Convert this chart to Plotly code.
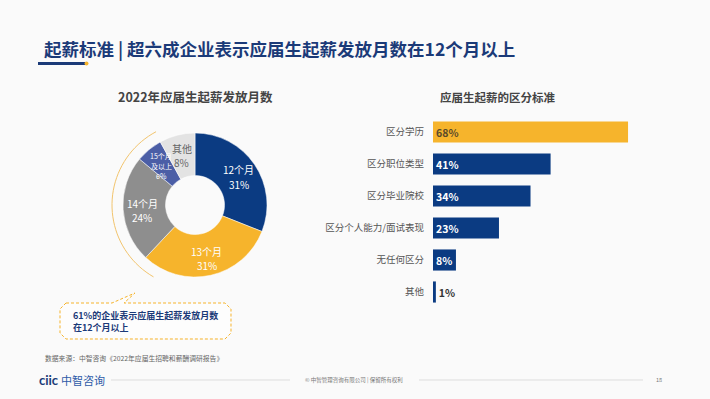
import math
import plotly.graph_objects as go

W, H = 710, 399
FONT = "Noto Sans CJK SC"
NAVY = "#0B3B82"
GOLD = "#F6B42C"

# ---- data ----
title_text = "起薪标准 | 超六成企业表示应届生起薪发放月数在12个月以上"
pie_title = "2022年应届生起薪发放月数"
pie_labels = ["12个月", "13个月", "14个月", "15个月<br>及以上", "其他"]
pie_values = [31, 31, 24, 6, 8]
pie_colors = [NAVY, GOLD, "#8E8E8E", "#4B5EA6", "#E3E3E3"]
pie_text_colors = ["white", "white", "white", "white", "#666666"]
pie_text_sizes = [10, 10, 10, 7, 10]

bar_title = "应届生起薪的区分标准"
bar_cats = ["区分学历", "区分职位类型", "区分毕业院校", "区分个人能力/面试表现", "无任何区分", "其他"]
bar_vals = [68, 41, 34, 23, 8, 1]
bar_colors = [GOLD, NAVY, NAVY, NAVY, NAVY, NAVY]
bar_text_colors = ["#5a4a2a", "white", "white", "white", "white", "#333333"]
bar_text_pos = ["inside", "inside", "inside", "inside", "inside", "outside"]

callout = "61%的企业表示应届生起薪发放月数<br>在12个月以上"
source = "数据来源：中智咨询《2022年应届生招聘和薪酬调研报告》"
copyright_text = "© 中智管理咨询有限公司 | 保留所有权利"
page_no = "18"


def px(x):
    return x / W


def py(y):
    return 1 - y / H


fig = go.Figure()

# donut
cx, cy, r = 195, 205, 72
fig.add_trace(go.Pie(
    labels=pie_labels, values=pie_values,
    textinfo="none",
    marker=dict(colors=pie_colors, line=dict(color="white", width=0.5)),
    hole=0.41, sort=False, direction="clockwise", rotation=0,
    domain=dict(x=[px(cx - r), px(cx + r)], y=[py(cy + r), py(cy - r)]),
    showlegend=False, hoverinfo="label+value",
))

# bars
fig.add_trace(go.Bar(
    x=bar_vals, y=bar_cats, orientation="h",
    marker=dict(color=bar_colors, line=dict(width=0)),
    text=[f"{v}%" for v in bar_vals], textposition=bar_text_pos,
    insidetextanchor="start", cliponaxis=False,
    textfont=dict(color=bar_text_colors, size=10.5, family=FONT, weight="bold"),
    showlegend=False,
))

fig.update_layout(
    width=W, height=H, margin=dict(l=0, r=0, t=0, b=0),
    paper_bgcolor="#FAFAFA", plot_bgcolor="rgba(0,0,0,0)",
    font=dict(family=FONT),
    bargap=0.34,
    xaxis=dict(domain=[px(433), px(690)], range=[0, 89.6], visible=False, fixedrange=True),
    yaxis=dict(domain=[py(308), py(116)], autorange="reversed", showgrid=False,
               zeroline=False, showline=False, ticks="", ticklabelstandoff=8,
               tickfont=dict(size=9.5, color="#555555", family=FONT)),
)

ann = []
# donut slice labels placed at each slice's mid-angle (from the data), one annotation per line
total = sum(pie_values)
acc = 0
lab_r = 53
for lab, v, c, s in zip(pie_labels, pie_values, pie_text_colors, pie_text_sizes):
    mid = (acc + v / 2) / total * 2 * math.pi
    acc += v
    lx = cx + lab_r * math.sin(mid)
    ly = cy - lab_r * math.cos(mid) + 2
    lines = lab.split("<br>") + [f"{v}%"]
    step = s * 1.45
    start = ly - step * (len(lines) - 1) / 2
    for k, t in enumerate(lines):
        ann.append(dict(x=px(lx), y=py(start + k * step), xref="paper", yref="paper",
                        xanchor="center", yanchor="middle", text=t, showarrow=False,
                        font=dict(size=s, color=c, family=FONT)))

ann.append(dict(x=px(42), y=py(48.5), xref="paper", yref="paper", xanchor="left", yanchor="middle",
                text=title_text, showarrow=False,
                font=dict(size=17.5, color="#1B3A78", family=FONT, weight="bold")))
ann.append(dict(x=px(195), y=py(97), xref="paper", yref="paper", xanchor="center", yanchor="middle",
                text=pie_title, showarrow=False,
                font=dict(size=12.5, color="#444444", family=FONT, weight="bold")))
ann.append(dict(x=px(498), y=py(97), xref="paper", yref="paper", xanchor="center", yanchor="middle",
                text=bar_title, showarrow=False,
                font=dict(size=11.5, color="#444444", family=FONT, weight="bold")))
ann.append(dict(x=px(71), y=py(321), xref="paper", yref="paper", xanchor="left", yanchor="middle",
                text=callout, showarrow=False, align="left",
                font=dict(size=9, color="#1B3A78", family=FONT, weight="bold")))
ann.append(dict(x=px(43), y=py(358), xref="paper", yref="paper", xanchor="left", yanchor="middle",
                text=source, showarrow=False,
                font=dict(size=6.8, color="#666666", family=FONT)))
ann.append(dict(x=px(37), y=py(380), xref="paper", yref="paper", xanchor="left", yanchor="middle",
                text="<b>ciic</b>", showarrow=False,
                font=dict(size=13, color="#1B3A78", family="Lato")))
ann.append(dict(x=px(59), y=py(380), xref="paper", yref="paper", xanchor="left", yanchor="middle",
                text="中智咨询", showarrow=False,
                font=dict(size=11, color="#2E5BA8", family=FONT)))
ann.append(dict(x=px(354), y=py(380), xref="paper", yref="paper", xanchor="center", yanchor="middle",
                text=copyright_text, showarrow=False,
                font=dict(size=5.5, color="#777777", family=FONT)))
ann.append(dict(x=px(659), y=py(380), xref="paper", yref="paper", xanchor="center", yanchor="middle",
                text=page_no, showarrow=False,
                font=dict(size=5.5, color="#777777", family=FONT)))
fig.update_layout(annotations=ann)

shapes = []
# title underline
shapes.append(dict(type="line", xref="paper", yref="paper", x0=px(38), x1=px(85), y0=py(63.5), y1=py(63.5),
                   line=dict(color="#1B3A78", width=3)))
shapes.append(dict(type="circle", xref="paper", yref="paper", x0=px(84.5), x1=px(88.5), y0=py(65.5), y1=py(61.5),
                   fillcolor=GOLD, line=dict(width=0)))
# gold arc around donut (left side)
ar = 83
pts = []
for i in range(41):
    a = math.radians(118 + i * (240 - 118) / 40)
    pts.append((px(cx + ar * math.cos(a)), py(cy - ar * math.sin(a))))
path = "M " + " L ".join(f"{x:.5f},{y:.5f}" for x, y in pts)
shapes.append(dict(type="path", xref="paper", yref="paper", path=path,
                   line=dict(color="#F2C46D", width=1)))
# callout box with pointer
x0, x1, y0, y1, rr = 60, 231, 303, 339, 6
pxs = [(x0 + rr, y0), (112, y0), (135, 293), (124, y0), (x1 - rr, y0), (x1, y0 + rr), (x1, y1 - rr),
       (x1 - rr, y1), (x0 + rr, y1), (x0, y1 - rr), (x0, y0 + rr), (x0 + rr, y0)]
cpath = "M " + " L ".join(f"{px(a):.5f},{py(b):.5f}" for a, b in pxs) + " Z"
shapes.append(dict(type="path", xref="paper", yref="paper", path=cpath,
                   fillcolor="rgba(255,255,255,0.6)", line=dict(color=GOLD, width=1, dash="3px,2px")))
# footer lines
shapes.append(dict(type="line", xref="paper", yref="paper", x0=px(111), x1=px(290), y0=py(380), y1=py(380),
                   line=dict(color="#DDDDDD", width=1)))
shapes.append(dict(type="line", xref="paper", yref="paper", x0=px(419), x1=px(643), y0=py(380), y1=py(380),
                   line=dict(color="#DDDDDD", width=1)))
fig.update_layout(shapes=shapes)

fig.write_html("out.html", config={"displayModeBar": False},
               post_script="document.body.style.margin='0';")
